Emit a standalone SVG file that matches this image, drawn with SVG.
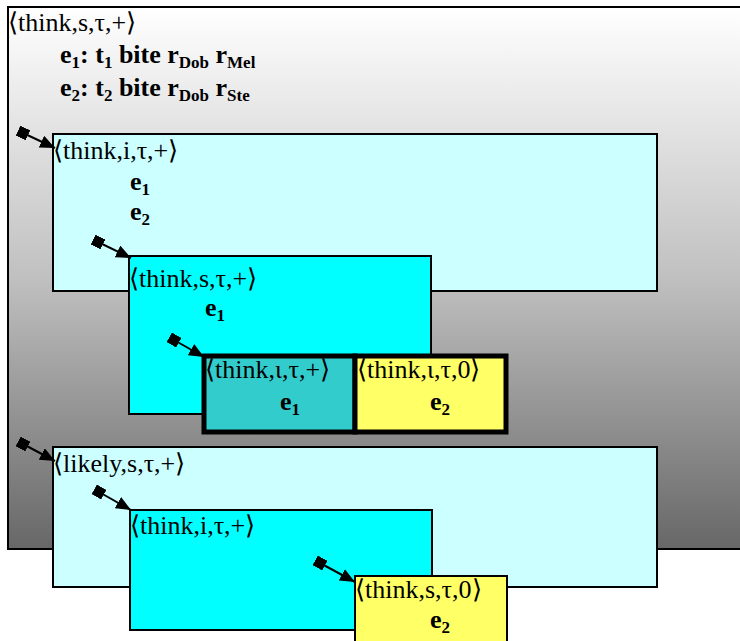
<svg xmlns="http://www.w3.org/2000/svg" width="740" height="641" viewBox="0 0 740 641">
<defs>
<linearGradient id="bg" x1="0" y1="0" x2="0" y2="1">
<stop offset="0" stop-color="#ffffff"/>
<stop offset="0.5" stop-color="#c0c0c0"/>
<stop offset="1" stop-color="#676767"/>
</linearGradient>
<marker id="arr" viewBox="0 0 15 13" refX="15" refY="6.5" markerWidth="15" markerHeight="13" markerUnits="userSpaceOnUse" orient="auto">
<path d="M0,0 L15,6.5 L0,13 Z" fill="#000"/>
</marker>
<marker id="sq" viewBox="0 0 10 10" refX="5" refY="5" markerWidth="11" markerHeight="11" markerUnits="userSpaceOnUse" orient="auto">
<rect x="0" y="0" width="10" height="10" fill="#000"/>
</marker>
</defs>
<style>
text{font-family:"Liberation Serif","Times New Roman",serif;font-size:26px;fill:#000}
.b{font-weight:bold}
.sub{font-size:17px}
.box{stroke:#000;stroke-width:2}
.thick{stroke:#000;stroke-width:5}
.lc{fill:#ccffff}
.cy{fill:#00ffff}
.tl{fill:#33cccc}
.ye{fill:#ffff66}
.conn{stroke:#000;stroke-width:2;fill:none;marker-start:url(#sq);marker-end:url(#arr)}
</style>
<g id="outer">
<rect x="8" y="7" width="740" height="542" fill="url(#bg)" class="box"/>
<text x="8" y="31">⟨think,s,τ,+⟩</text>
<text x="60" y="63" class="b">e<tspan class="sub" dy="5">1</tspan><tspan dy="-5">: t</tspan><tspan class="sub" dy="5">1</tspan><tspan dy="-5"> bite r</tspan><tspan class="sub" dy="5">Dob</tspan><tspan dy="-5"> r</tspan><tspan class="sub" dy="5">Mel</tspan></text>
<text x="60" y="96" class="b">e<tspan class="sub" dy="5">2</tspan><tspan dy="-5">: t</tspan><tspan class="sub" dy="5">2</tspan><tspan dy="-5"> bite r</tspan><tspan class="sub" dy="5">Dob</tspan><tspan dy="-5"> r</tspan><tspan class="sub" dy="5">Ste</tspan></text>
</g>
<g id="boxA">
<rect x="53" y="134" width="604" height="157" class="box lc"/>
<text x="53" y="159">⟨think,i,τ,+⟩</text>
<text x="130" y="190" class="b">e<tspan class="sub" dy="5">1</tspan></text>
<text x="130" y="220" class="b">e<tspan class="sub" dy="5">2</tspan></text>
</g>
<g id="boxB">
<rect x="129" y="256" width="302" height="158" class="box cy"/>
<text x="129" y="287">⟨think,s,τ,+⟩</text>
<text x="205" y="316" class="b">e<tspan class="sub" dy="5">1</tspan></text>
</g>
<g id="boxC">
<rect x="204" y="356" width="151" height="76" class="thick tl"/>
<text x="205" y="378">⟨think,ι,τ,+⟩</text>
<text x="280" y="410" class="b">e<tspan class="sub" dy="5">1</tspan></text>
</g>
<g id="boxD">
<rect x="355" y="356" width="151" height="76" class="thick ye"/>
<text x="357" y="378">⟨think,ι,τ,0⟩</text>
<text x="430" y="410" class="b">e<tspan class="sub" dy="5">2</tspan></text>
</g>
<g id="boxE">
<rect x="53" y="447" width="604" height="140" class="box lc"/>
<text x="53" y="472">⟨likely,s,τ,+⟩</text>
</g>
<g id="boxF">
<rect x="130" y="510" width="302" height="120" class="box cy"/>
<text x="130" y="534">⟨think,i,τ,+⟩</text>
</g>
<g id="boxG">
<rect x="355" y="576" width="152" height="70" class="box ye"/>
<text x="355" y="598">⟨think,s,τ,0⟩</text>
<text x="430" y="628" class="b">e<tspan class="sub" dy="5">2</tspan></text>
</g>
<g id="connectors">
<path d="M23,133 L55,148" class="conn"/>
<path d="M98,242 L131,258" class="conn"/>
<path d="M174,340 L204,357" class="conn"/>
<path d="M23,444 L55,461" class="conn"/>
<path d="M99,492 L131,510" class="conn"/>
<path d="M320,563 L355,582" class="conn"/>
</g>
</svg>
